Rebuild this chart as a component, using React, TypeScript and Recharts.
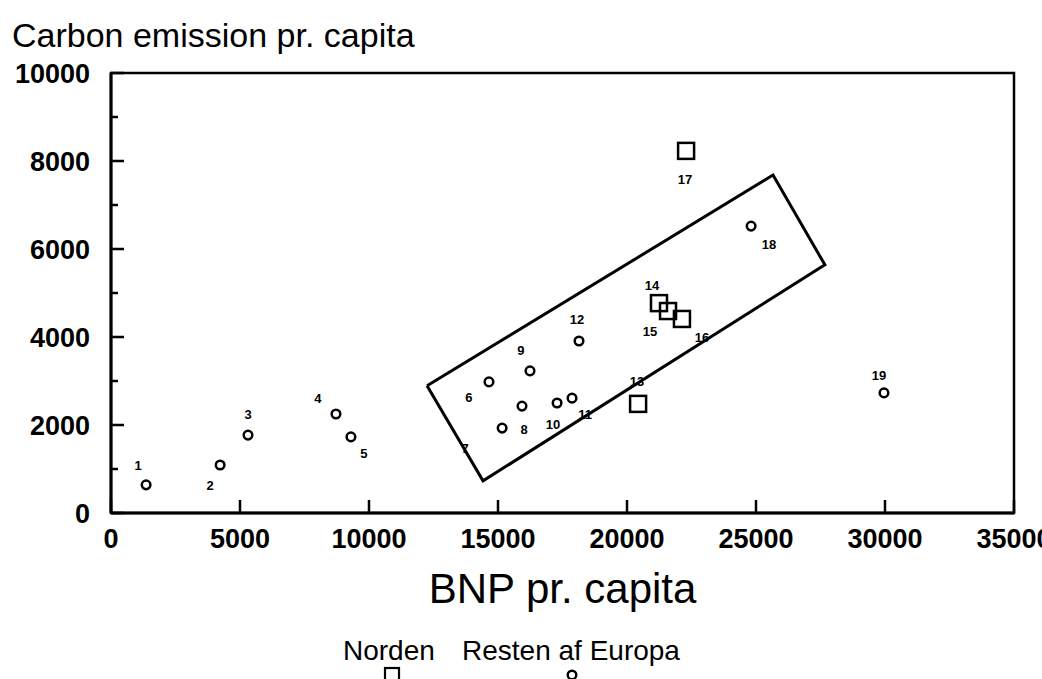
import React from 'react';
import { ScatterChart, Scatter, XAxis, YAxis, ReferenceArea } from 'recharts';

// Resten af Europa (circles)
const restIds = [1, 2, 3, 4, 5, 6, 7, 8, 9, 10, 11, 12, 18, 19];
const restBnp = [1360, 4230, 5310, 8720, 9300, 14650, 15160, 15930, 16240, 17290, 17870, 18140, 24810, 29960];
const restCarbon = [640, 1090, 1770, 2250, 1730, 2980, 1930, 2430, 3230, 2500, 2610, 3910, 6520, 2730];

// Norden (squares)
const nordenIds = [13, 14, 15, 16, 17];
const nordenBnp = [20430, 21240, 21590, 22130, 22290];
const nordenCarbon = [2480, 4770, 4590, 4410, 8230];

// tilted frame around the main group
const boxBnp = [12250, 25660, 27670, 14420, 12250];
const boxCarbon = [2890, 7680, 5640, 730, 2890];

const xTicks = [0, 5000, 10000, 15000, 20000, 25000, 30000, 35000];
const yTicks = [0, 1000, 2000, 3000, 4000, 5000, 6000, 7000, 8000, 9000, 10000];

// where each number sits relative to its marker (px)
const labelOffset: Record<number, [number, number]> = {
  1: [-8, -19], 2: [-10, 20], 3: [0, -21], 4: [-18, -16], 5: [13, 17],
  6: [-20, 16], 7: [-37, 20], 8: [2, 23], 9: [-9, -20], 10: [-4, 21],
  11: [13, 16], 12: [-2, -21], 13: [-1, -22], 14: [-7, -18], 15: [-18, 20],
  16: [20, 19], 17: [-1, 29], 18: [18, 18], 19: [-5, -17],
};

const restData = restIds.map((id, i) => ({ id, x: restBnp[i], y: restCarbon[i] }));
const nordenData = nordenIds.map((id, i) => ({ id, x: nordenBnp[i], y: nordenCarbon[i] }));
const boxData = boxBnp.map((x, i) => ({ x, y: boxCarbon[i] }));

const PointLabel = ({ cx, cy, id }: any) => {
  const [dx, dy] = labelOffset[id] || [0, -18];
  return (
    <text x={cx + dx} y={cy + dy + 4.5} textAnchor="middle" fontSize={13} fontWeight="bold" fill="#000">
      {id}
    </text>
  );
};

const CircleMark = (props: any) => {
  const { cx, cy, payload } = props;
  return (
    <g>
      <circle cx={cx} cy={cy} r={4.3} fill="#fff" stroke="#000" strokeWidth={2.5} />
      <PointLabel cx={cx} cy={cy} id={payload.id} />
    </g>
  );
};

const SquareMark = (props: any) => {
  const { cx, cy, payload } = props;
  return (
    <g>
      <rect x={cx - 8} y={cy - 8} width={16} height={16} fill="none" stroke="#000" strokeWidth={2.5} />
      <PointLabel cx={cx} cy={cy} id={payload.id} />
    </g>
  );
};

const XTick = ({ x, y, payload }: any) => (
  <g>
    <line x1={x} y1={y} x2={x} y2={y - 13} stroke="#000" strokeWidth={2.5} />
    <text x={x} y={y + 35} textAnchor="middle" fontSize={27} fontWeight="bold" fill="#000">
      {payload.value}
    </text>
  </g>
);

const YTick = ({ x, y, payload }: any) => {
  const major = payload.value % 2000 === 0;
  return (
    <g>
      <line x1={x} y1={y} x2={x + (major ? 13 : 7)} y2={y} stroke="#000" strokeWidth={2.5} />
      {major && (
        <text x={x - 21} y={y + 9.5} textAnchor="end" fontSize={27} fontWeight="bold" fill="#000">
          {payload.value}
        </text>
      )}
    </g>
  );
};

export default function App() {
  return (
    <div style={{ position: 'fixed', left: 0, top: 0, width: 1042, height: 679, overflow: 'hidden', background: '#fff', fontFamily: '"Liberation Sans", Arial, sans-serif' }}>
      <div style={{ position: 'absolute', left: 12, top: 18, fontSize: 34, lineHeight: '34px', color: '#000', whiteSpace: 'nowrap' }}>
        Carbon emission pr. capita
      </div>

      <ScatterChart width={1042} height={679} margin={{ top: 73, right: 28, bottom: 66, left: 0 }}>
        <XAxis
          type="number"
          dataKey="x"
          domain={[0, 35000]}
          ticks={xTicks}
          interval={0}
          allowDataOverflow
          height={100}
          tickSize={0}
          tickMargin={0}
          tickLine={false}
          tick={<XTick />}
          axisLine={{ stroke: '#000', strokeWidth: 3 }}
          label={({ viewBox }: any) => (
            <text x={viewBox.x + viewBox.width / 2} y={603} textAnchor="middle" fontSize={42} fill="#000">
              BNP pr. capita
            </text>
          )}
        />
        <YAxis
          type="number"
          dataKey="y"
          domain={[0, 10000]}
          ticks={yTicks}
          interval={0}
          allowDataOverflow
          width={111}
          tickSize={0}
          tickMargin={0}
          tickLine={false}
          tick={<YTick />}
          axisLine={{ stroke: '#000', strokeWidth: 3 }}
        />
        <ReferenceArea x1={0} x2={35000} y1={0} y2={10000} fill="none" stroke="#000" strokeWidth={2.5} />
        <Scatter
          data={boxData}
          line={{ stroke: '#000', strokeWidth: 3 }}
          lineJointType="linear"
          shape={() => <g />}
          isAnimationActive={false}
        />
        <Scatter data={restData} shape={<CircleMark />} isAnimationActive={false} />
        <Scatter data={nordenData} shape={<SquareMark />} isAnimationActive={false} />
      </ScatterChart>

      <svg width={1042} height={679} style={{ position: 'absolute', left: 0, top: 0, pointerEvents: 'none' }}>
        <text x={343} y={660} fontSize={28} fill="#000">Norden</text>
        <text x={462} y={660} fontSize={28} fill="#000">Resten af Europa</text>
        <rect x={385} y={668} width={14} height={14} fill="none" stroke="#000" strokeWidth={2.2} />
        <circle cx={572} cy={675} r={4.3} fill="#fff" stroke="#000" strokeWidth={2.4} />
      </svg>
    </div>
  );
}
